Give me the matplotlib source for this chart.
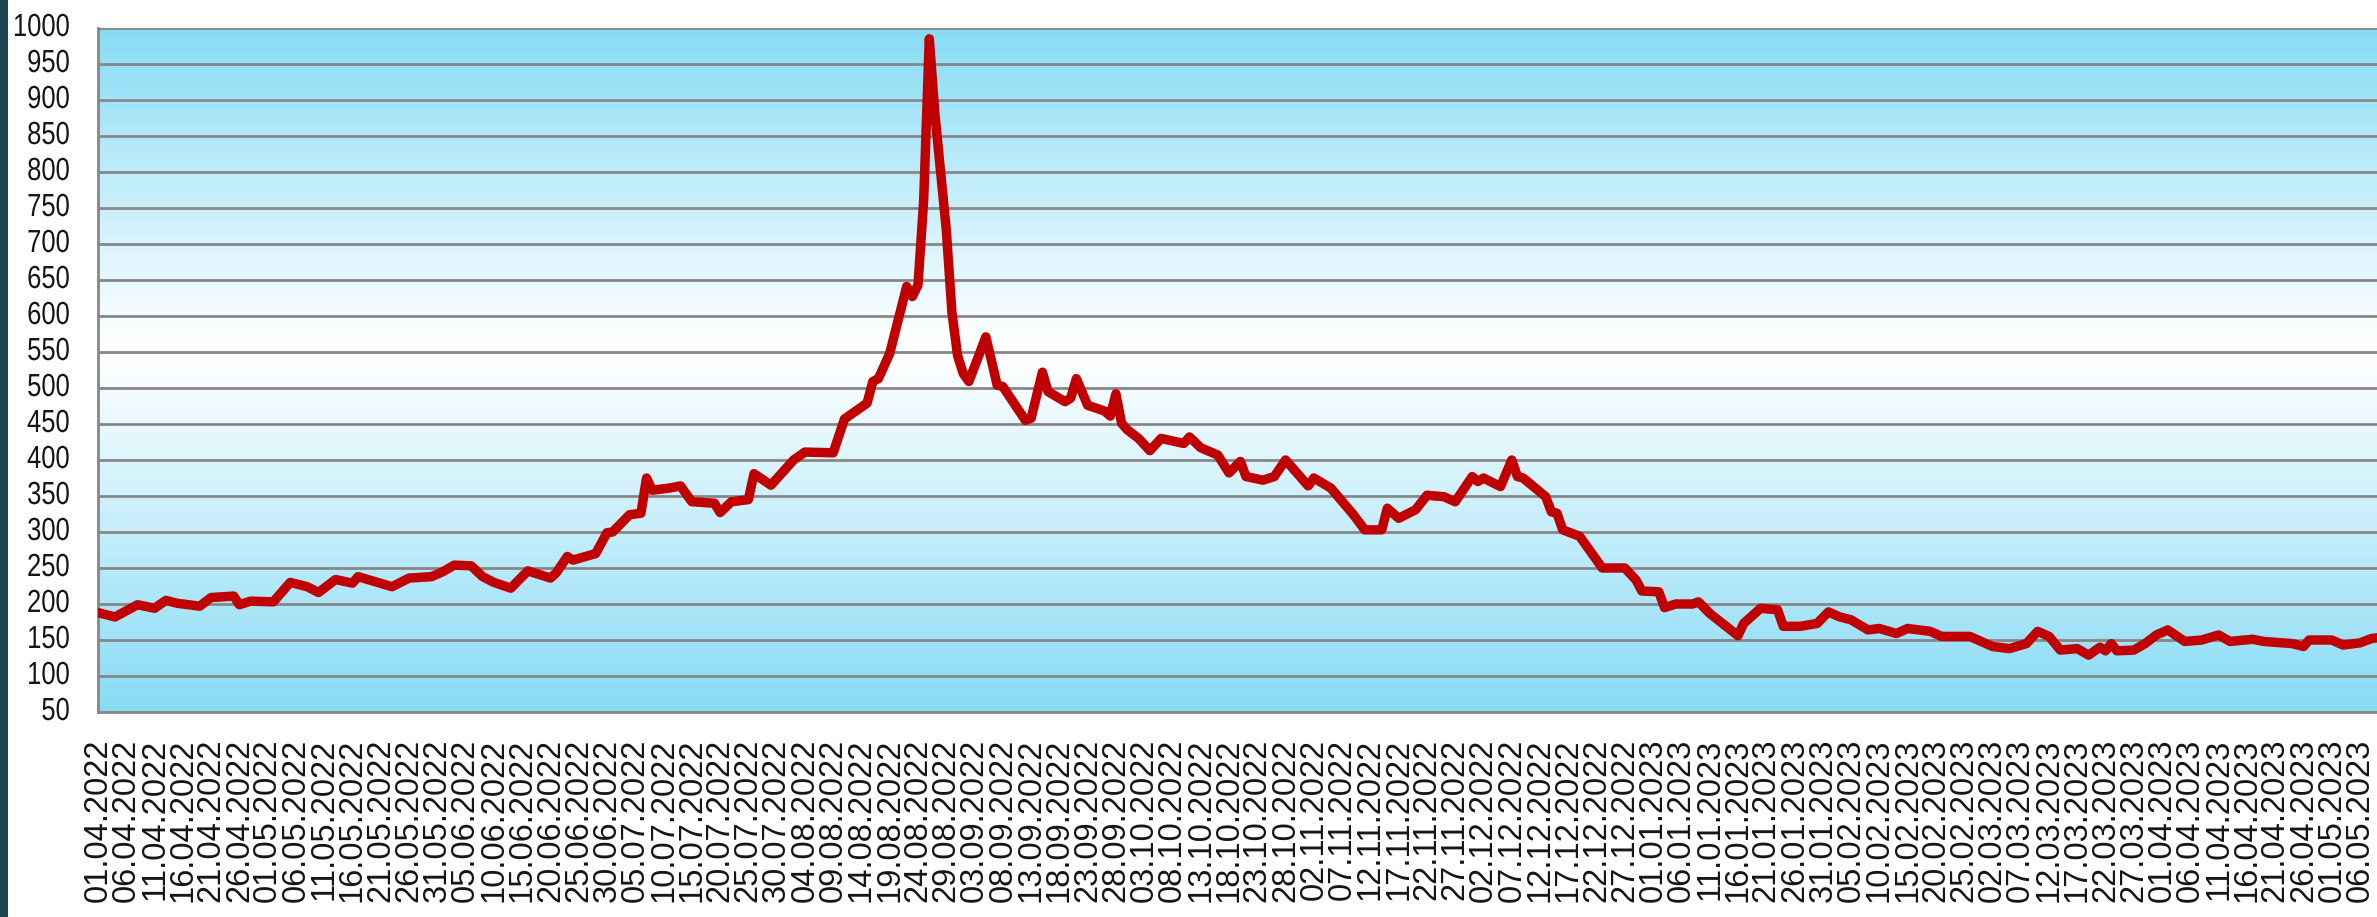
import numpy as np
import pandas as pd
import matplotlib
matplotlib.use("Agg")
import matplotlib.pyplot as plt
import matplotlib.dates as mdates
from matplotlib.colors import LinearSegmentedColormap
from matplotlib.patches import Rectangle
from matplotlib.patheffects import AbstractPathEffect
from matplotlib.transforms import Affine2D

# ---- data ----
dates = [
    "2022-04-01", "2022-04-04", "2022-04-08", "2022-04-11", "2022-04-13", "2022-04-15",
    "2022-04-19", "2022-04-21", "2022-04-25", "2022-04-26", "2022-04-28", "2022-05-02",
    "2022-05-05", "2022-05-08", "2022-05-10", "2022-05-13", "2022-05-16", "2022-05-17",
    "2022-05-20", "2022-05-23", "2022-05-26", "2022-05-30", "2022-06-01", "2022-06-03",
    "2022-06-06", "2022-06-08", "2022-06-10", "2022-06-13", "2022-06-16", "2022-06-20",
    "2022-06-21", "2022-06-23", "2022-06-24", "2022-06-28", "2022-06-30", "2022-07-01",
    "2022-07-04", "2022-07-06", "2022-07-07", "2022-07-08", "2022-07-11", "2022-07-13",
    "2022-07-15", "2022-07-19", "2022-07-20", "2022-07-22", "2022-07-25", "2022-07-26",
    "2022-07-29", "2022-08-02", "2022-08-04", "2022-08-09", "2022-08-11", "2022-08-15",
    "2022-08-16", "2022-08-17", "2022-08-19", "2022-08-22", "2022-08-23", "2022-08-24",
    "2022-08-25", "2022-08-26", "2022-08-27", "2022-08-28", "2022-08-29", "2022-08-30",
    "2022-08-31", "2022-09-01", "2022-09-02", "2022-09-05", "2022-09-07", "2022-09-08",
    "2022-09-12", "2022-09-13", "2022-09-15", "2022-09-16", "2022-09-19", "2022-09-20",
    "2022-09-21", "2022-09-23", "2022-09-26", "2022-09-27", "2022-09-28", "2022-09-29",
    "2022-09-30", "2022-10-02", "2022-10-04", "2022-10-06", "2022-10-10", "2022-10-11",
    "2022-10-13", "2022-10-16", "2022-10-18", "2022-10-20", "2022-10-21", "2022-10-24",
    "2022-10-26", "2022-10-28", "2022-10-30", "2022-11-01", "2022-11-02", "2022-11-05",
    "2022-11-09", "2022-11-11", "2022-11-14", "2022-11-15", "2022-11-17", "2022-11-20",
    "2022-11-22", "2022-11-25", "2022-11-27", "2022-11-30", "2022-12-01", "2022-12-02",
    "2022-12-05", "2022-12-07", "2022-12-08", "2022-12-09", "2022-12-13", "2022-12-14",
    "2022-12-15", "2022-12-16", "2022-12-19", "2022-12-23", "2022-12-27", "2022-12-29",
    "2022-12-30", "2023-01-02", "2023-01-03", "2023-01-05", "2023-01-08", "2023-01-09",
    "2023-01-11", "2023-01-16", "2023-01-17", "2023-01-20", "2023-01-23", "2023-01-24",
    "2023-01-27", "2023-01-30", "2023-02-01", "2023-02-03", "2023-02-05", "2023-02-08",
    "2023-02-10", "2023-02-13", "2023-02-15", "2023-02-19", "2023-02-21", "2023-02-26",
    "2023-03-02", "2023-03-05", "2023-03-08", "2023-03-10", "2023-03-12", "2023-03-14",
    "2023-03-17", "2023-03-19", "2023-03-21", "2023-03-22", "2023-03-23", "2023-03-24",
    "2023-03-27", "2023-03-29", "2023-03-31", "2023-04-02", "2023-04-05", "2023-04-08",
    "2023-04-11", "2023-04-13", "2023-04-17", "2023-04-19", "2023-04-24", "2023-04-26",
    "2023-04-27", "2023-05-01", "2023-05-03", "2023-05-06", "2023-05-08", "2023-05-09",
]
values = [
    188, 182, 199, 194, 205, 201,
    197, 209, 211, 199, 204, 203,
    230, 224, 216, 234, 229, 238,
    231, 224, 236, 238, 245, 254,
    253, 238, 230, 222, 246, 236,
    243, 266, 261, 270, 299, 300,
    324, 326, 375, 358, 361, 364,
    342, 340, 327, 342, 345, 381,
    365, 400, 411, 410, 457, 479,
    509, 513, 548, 641, 627, 643,
    760, 985, 880, 800, 720, 605,
    545, 520, 509, 571, 504, 502,
    455, 458, 522, 495, 481, 486,
    513, 476, 468, 461, 492, 451,
    442, 430, 413, 430, 423, 432,
    417, 407, 382, 398, 377, 372,
    377, 400, 382, 364, 375, 361,
    324, 303, 303, 333, 319, 331,
    351, 349, 342, 377, 370, 375,
    363, 400, 377, 375, 349, 328,
    326, 303, 294, 250, 250, 233,
    218, 217, 195, 200, 200, 203,
    187, 156, 173, 194, 192, 169,
    169, 173, 189, 182, 178, 164,
    166, 159, 166, 162, 155, 155,
    141, 138, 145, 162, 155, 136,
    138, 129, 140, 135, 145, 135,
    136, 145, 157, 164, 148, 150,
    157, 148, 151, 148, 145, 141,
    150, 150, 143, 146, 152, 153,
]
y_ticks = list(range(50, 1001, 50))
tick_start = "2022-04-01"
tick_end = "2023-05-06"
tick_step_days = 5


class SqueezeX(AbstractPathEffect):
    """Compress glyphs horizontally about the right edge of the text."""

    def __init__(self, sx):
        super().__init__()
        self.sx = sx

    def draw_path(self, renderer, gc, tpath, affine, rgbFace=None):
        ext = tpath.get_extents()
        xr = ext.x1
        t = Affine2D().translate(-xr, 0).scale(self.sx, 1).translate(xr, 0)
        renderer.draw_path(gc, tpath, t + affine, rgbFace)


# ---- figure ----
W, H, DPI = 2377, 917, 100
fig = plt.figure(figsize=(W / DPI, H / DPI), dpi=DPI, facecolor="white")

fig.patches.append(Rectangle((0, 0), 8 / W, 1, transform=fig.transFigure,
                             facecolor="#1b4452", edgecolor="none", zorder=0))

ax_left = 98 / W
ax_bottom = 1 - 712 / H
ax_top = 1 - 28 / H
ax = fig.add_axes([ax_left, ax_bottom, 1 - ax_left, ax_top - ax_bottom])

x = pd.to_datetime(dates)
x0 = pd.Timestamp(tick_start)
x1 = x0 + pd.Timedelta(days=403)
ax.set_xlim(x0, x1)
ax.set_ylim(50, 1000)

blue = (0.53, 0.86, 0.96)
cmap = LinearSegmentedColormap.from_list(
    "bg", [(0.0, blue), (0.5, (0.985, 0.995, 1.0)), (0.55, (0.99, 0.997, 1.0)), (1.0, blue)])
grad = np.linspace(0, 1, 512).reshape(-1, 1)
ax.imshow(grad, aspect="auto", cmap=cmap, origin="lower",
          extent=[mdates.date2num(x0), mdates.date2num(x1), 50, 1000], zorder=0,
          interpolation="bilinear")

for yv in y_ticks:
    ax.axhline(yv, color="#878787", lw=2.0, zorder=1)

ax.plot(x, values, color="#c00000", lw=6.8, solid_joinstyle="round",
        solid_capstyle="round", zorder=3)

tick_dates = pd.date_range(tick_start, tick_end, freq=f"{tick_step_days}D")
ax.set_xticks(tick_dates)
ax.set_xticklabels([d.strftime("%d.%m.%Y") for d in tick_dates], rotation=90,
                   fontsize=23.5, family=["Liberation Sans", "DejaVu Sans"],
                   color="#151515")
ax.tick_params(axis="x", length=0, pad=19)

ax.set_yticks(y_ticks)
ax.set_yticklabels([])
ax.tick_params(axis="y", length=0)
ytrans = ax.get_yaxis_transform()
for yv in y_ticks:
    ax.text(-28 / (W - 98), yv, str(yv), transform=ax.transAxes if False else ytrans,
            ha="right", va="center", fontsize=23,
            family=["Liberation Sans", "DejaVu Sans"], color="#151515",
            path_effects=[SqueezeX(0.8)], clip_on=False)

for side in ["top", "right"]:
    ax.spines[side].set_visible(False)
ax.spines["left"].set_color("#878787")
ax.spines["left"].set_linewidth(2.0)
ax.spines["bottom"].set_color("#878787")
ax.spines["bottom"].set_linewidth(2.0)

fig.savefig("out.png", dpi=DPI, facecolor="white")
